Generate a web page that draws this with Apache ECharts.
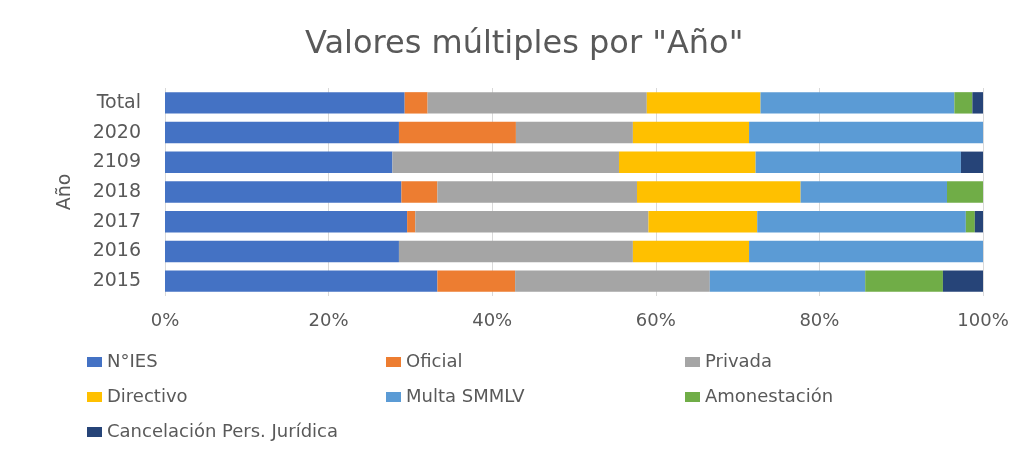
<!DOCTYPE html>
<html><head><meta charset="utf-8">
<script src="https://cdn.jsdelivr.net/npm/echarts@6/dist/echarts.min.js"></script>
<style>html,body{margin:0;padding:0;background:#fff}#c{width:1026px;height:450px}</style>
</head><body><div id="c"></div>
<script>
const categories = ['Total','2020','2109','2018','2017','2016','2015'];
const seriesNames = ['N°IES','Oficial','Privada','Directivo','Multa SMMLV','Amonestación','Cancelación Pers. Jurídica'];
const nIES        = [29.3, 28.6, 27.8, 28.9, 29.6, 28.6, 33.3];
const oficial     = [2.8, 14.3, 0, 4.4, 1.0, 0, 9.5];
const privada     = [26.8, 14.3, 27.7, 24.4, 28.5, 28.6, 23.8];
const directivo   = [13.9, 14.2, 16.7, 20.0, 13.3, 14.2, 0];
const multa       = [23.7, 28.6, 25.1, 17.9, 25.5, 28.6, 19.0];
const amonestacion= [2.2, 0, 0, 4.4, 1.1, 0, 9.5];
const cancelacion = [1.3, 0, 2.7, 0, 1.0, 0, 4.9];
const xTicks = ['0%','20%','40%','60%','80%','100%'];

const colors = ['#4472C4','#ED7D31','#A5A5A5','#FFC000','#5B9BD5','#70AD47','#264478'];
const values = [nIES, oficial, privada, directivo, multa, amonestacion, cancelacion];
const FONT = '"DejaVu Sans", sans-serif';

const chart = echarts.init(document.getElementById('c'));
const legendPos = [
  [82,348],[381,348],[680,348],
  [82,383],[381,383],[680,383],
  [82,418]
];
const legends = seriesNames.map((n,i)=>({
  data:[n], left:legendPos[i][0], top:legendPos[i][1],
  itemWidth:15, itemHeight:10, icon:'rect', itemGap:0,
  textStyle:{color:'#595959', fontFamily:FONT, fontSize:18, padding:[0,0,0,0]},
  selectedMode:false
}));
chart.setOption({
  animation:false,
  color: colors,
  title:{text:'Valores múltiples por "Año"', left:300, top:24,
    textStyle:{color:'#595959', fontFamily:FONT, fontSize:32, fontWeight:'normal'}},
  legend: legends,
  grid:{left:165, right:43, top:88, bottom:154, containLabel:false},
  xAxis:{type:'value', min:0, max:100, interval:20,
    axisLabel:{color:'#595959', fontFamily:FONT, fontSize:18, margin:16,
      formatter:(v)=>xTicks[Math.round(v/20)]},
    splitLine:{lineStyle:{color:'#D9D9D9'}}, axisLine:{show:false}, axisTick:{show:false}},
  yAxis:{type:'category', data:categories, inverse:true,
    name:'Año', nameLocation:'middle', nameGap:90,
    nameTextStyle:{color:'#595959', fontFamily:FONT, fontSize:19},
    axisLabel:{color:'#595959', fontFamily:FONT, fontSize:19, margin:24},
    axisLine:{show:false}, axisTick:{show:false}},
  series: seriesNames.map((n,i)=>({
    name:n, type:'bar', stack:'all', barCategoryGap:'28%',
    data: values[i], itemStyle:{color:colors[i]}
  }))
});
</script></body></html>
